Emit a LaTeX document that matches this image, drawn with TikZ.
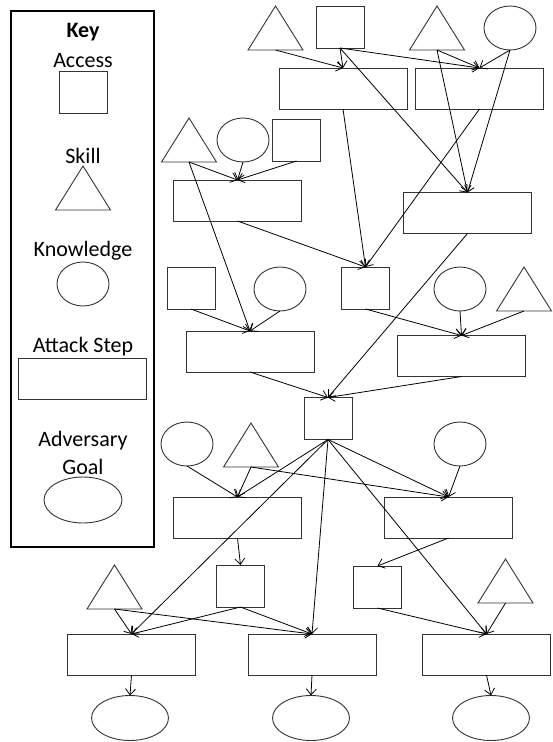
\documentclass[tikz,border=0pt]{standalone}
\usepackage{fontspec}
\setmainfont{Carlito}
\usetikzlibrary{shapes.geometric,arrows.meta}
\begin{document}
\begin{tikzpicture}[x=1pt,y=-1pt,
 shp/.style={draw=black!80, line width=0.9pt, inner sep=0pt, outer sep=0pt},
 acc/.style={shp, rectangle, minimum width=48pt, minimum height=42pt},
 stepbox/.style={shp, rectangle, minimum width=128pt, minimum height=41pt},
 know/.style={shp, ellipse, minimum width=52pt, minimum height=44pt},
 goal/.style={shp, ellipse, minimum width=77pt, minimum height=45pt},
 skill/.style={shp, isosceles triangle, isosceles triangle stretches, shape border rotate=90, minimum width=55pt, minimum height=44pt, anchor=lower side},
 arr/.style={draw, line width=0.8pt, -{Straight Barb[length=6pt,width=10pt]}},
 lbl/.style={font=\fontsize{22}{26}\selectfont, inner sep=0pt}
]
\useasboundingbox (0,0) rectangle (553,742);
% key
\node[draw, line width=2pt, minimum width=143pt, minimum height=536pt, inner sep=0pt] (keybox) at (82.5,279) {};
\node[lbl, font=\fontsize{22}{26}\selectfont\bfseries] (keyt) at (83,32) {Key};
\node[lbl] (kacc) at (83,61) {Access};
\node[acc] (ksq) at (83,92) {};
\node[lbl] (kskl) at (83,156) {Skill};
\node[skill] (ktri) at (83,210) {};
\node[lbl] (kknw) at (83,251) {Knowledge};
\node[know] (kell) at (83,284) {};
\node[lbl] (kstp) at (83,347) {Attack Step};
\node[stepbox] (krect) at (82.5,378.5) {};
\node[lbl] (kadv) at (83,441) {Adversary};
\node[lbl] (kgoal) at (83,467) {Goal};
\node[goal, minimum width=78pt, minimum height=46pt] (kgell) at (83,500) {};

% row 1
\node[skill] (A) at (275.5,50) {};
\node[acc] (B) at (340,27) {};
\node[skill] (C) at (437,50) {};
\node[know] (D) at (510,28) {};
\node[stepbox] (E1) at (343,88.5) {};
\node[stepbox] (E2) at (479.5,88.5) {};
% row 2
\node[skill] (F) at (189,162) {};
\node[know] (G) at (243,140) {};
\node[acc] (H) at (296.5,140) {};
\node[stepbox] (I) at (237.5,200.5) {};
\node[stepbox] (J) at (467.5,213) {};
% row 3
\node[acc] (K) at (191,288) {};
\node[know] (L) at (280,289) {};
\node[acc] (M) at (365.5,288) {};
\node[know] (N) at (460,289) {};
\node[skill] (O) at (524,311) {};
\node[stepbox] (P) at (250,351.5) {};
\node[stepbox] (Q) at (461.5,356) {};
\node[acc] (R) at (328,418.5) {};
% row 4
\node[know] (S) at (187,444) {};
\node[skill] (T) at (251,467) {};
\node[know] (U) at (460,444) {};
\node[stepbox] (V) at (237.5,517.5) {};
\node[stepbox] (W) at (448.5,517.5) {};
% row 5
\node[acc] (X) at (240.5,586) {};
\node[acc] (Y) at (377.5,587) {};
\node[skill] (Z1) at (114.5,609) {};
\node[skill] (Z2) at (505.5,603) {};
\node[stepbox] (AA) at (131.5,654.5) {};
\node[stepbox] (AB) at (312,654.5) {};
\node[stepbox] (AC) at (486.5,654.5) {};
\node[goal] (G1) at (130,718) {};
\node[goal] (G2) at (311,718) {};
\node[goal] (G3) at (491,718) {};

% connectors
\draw[arr] (A.lower side) -- (E1.north);
\draw[arr] (B.south) -- (E1.north);
\draw[arr] (B.south) -- (E2.north);
\draw[arr] (B.south) -- (J.north);
\draw[arr] (C.lower side) -- (E2.north);
\draw[arr] (C.lower side) -- (J.north);
\draw[arr] (D.south) -- (E2.north);
\draw[arr] (D.south) -- (J.north);
\draw[arr] (F.lower side) -- (I.north);
\draw[arr] (G.south) -- (I.north);
\draw[arr] (H.south) -- (I.north);
\draw[arr] (F.lower side) -- (P.north);
\draw[arr] (E1.south) -- (M.north);
\draw[arr] (E2.south) -- (M.north);
\draw[arr] (I.south) -- (M.north);
\draw[arr] (J.south) -- (R.north);
\draw[arr] (K.south) -- (P.north);
\draw[arr] (L.south) -- (P.north);
\draw[arr] (M.south) -- (Q.north);
\draw[arr] (N.south) -- (Q.north);
\draw[arr] (O.lower side) -- (Q.north);
\draw[arr] (P.south) -- (R.north);
\draw[arr] (Q.south) -- (R.north);
\draw[arr] (R.south) -- (V.north);
\draw[arr] (R.south) -- (W.north);
\draw[arr] (R.south) -- (AA.north);
\draw[arr] (R.south) -- (AB.north);
\draw[arr] (R.south) -- (AC.north);
\draw[arr] (S.south) -- (V.north);
\draw[arr] (T.lower side) -- (V.north);
\draw[arr] (T.lower side) -- (W.north);
\draw[arr] (U.south) -- (W.north);
\draw[arr] (V.south) -- (X.north);
\draw[arr] (W.south) -- (Y.north);
\draw[arr] (Z1.lower side) -- (AA.north);
\draw[arr] (X.south) -- (AA.north);
\draw[arr] (Z1.lower side) -- (AB.north);
\draw[arr] (X.south) -- (AB.north);
\draw[arr] (Y.south) -- (AC.north);
\draw[arr] (Z2.lower side) -- (AC.north);
\draw[arr] (AA.south) -- (G1.north);
\draw[arr] (AB.south) -- (G2.north);
\draw[arr] (AC.south) -- (G3.north);
\end{tikzpicture}
\end{document}
